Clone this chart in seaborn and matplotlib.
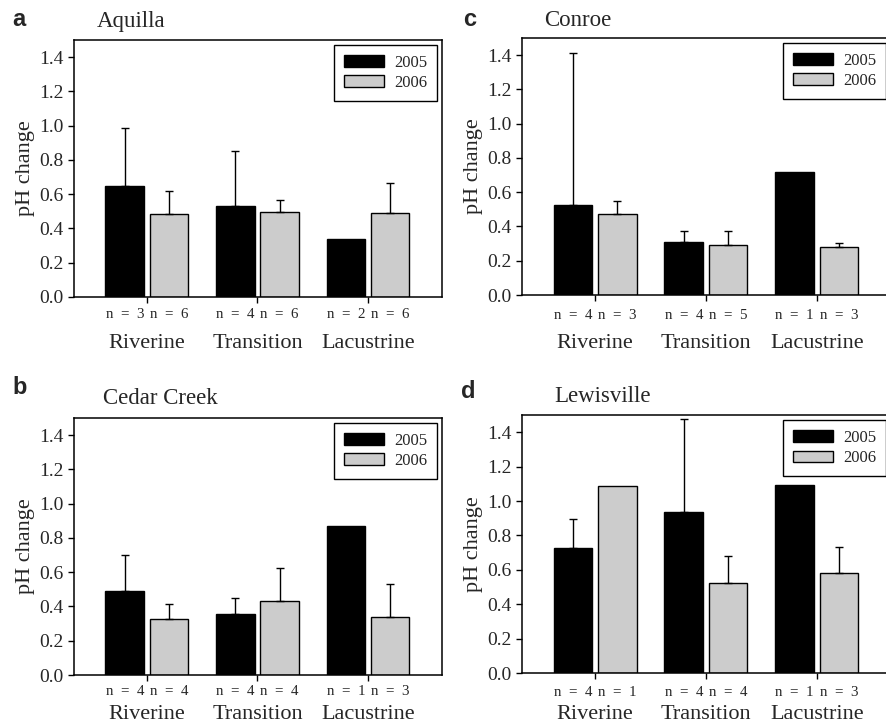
import numpy as np
import pandas as pd
import matplotlib
matplotlib.use('Agg')
import matplotlib.pyplot as plt
import matplotlib.transforms as mtransforms
import seaborn as sns

# 데이터
zones = ['Riverine', 'Transition', 'Lacustrine']
years = ['2005', '2006']

aquilla_2005 = [0.647, 0.534, 0.341]
aquilla_2006 = [0.485, 0.499, 0.489]
aquilla_err_2005 = [0.337, 0.320, 0.0]
aquilla_err_2006 = [0.135, 0.068, 0.178]
aquilla_n = [['n  =  3', 'n  =  4', 'n  =  2'], ['n  =  6', 'n  =  6', 'n  =  6']]

cedar_2005 = [0.488, 0.356, 0.869]
cedar_2006 = [0.325, 0.432, 0.338]
cedar_err_2005 = [0.210, 0.093, 0.0]
cedar_err_2006 = [0.091, 0.194, 0.191]
cedar_n = [['n  =  4', 'n  =  4', 'n  =  1'], ['n  =  4', 'n  =  4', 'n  =  3']]

conroe_2005 = [0.527, 0.309, 0.720]
conroe_2006 = [0.475, 0.292, 0.282]
conroe_err_2005 = [0.887, 0.063, 0.0]
conroe_err_2006 = [0.076, 0.083, 0.022]
conroe_n = [['n  =  4', 'n  =  4', 'n  =  1'], ['n  =  3', 'n  =  5', 'n  =  3']]

lewis_2005 = [0.725, 0.935, 1.091]
lewis_2006 = [1.089, 0.523, 0.579]
lewis_err_2005 = [0.169, 0.541, 0.0]
lewis_err_2006 = [0.0, 0.156, 0.152]
lewis_n = [['n  =  4', 'n  =  4', 'n  =  1'], ['n  =  1', 'n  =  4', 'n  =  3']]

sns.set_style('ticks')
plt.rcParams['font.family'] = ['Liberation Serif', 'DejaVu Serif']
plt.rcParams['axes.linewidth'] = 1.1

W, H = 887, 724
fig = plt.figure(figsize=(W / 100, H / 100), dpi=100)


def px_axes(x0, y0, x1, y1):
    # 픽셀 좌표 -> figure 비율
    return fig.add_axes([x0 / W, 1 - y1 / H, (x1 - x0) / W, (y1 - y0) / H])


def draw_panel(ax, v05, v06, e05, e06, nlab, n_off, name_off):
    df = pd.DataFrame({
        'zone': zones * 2,
        'year': [years[0]] * 3 + [years[1]] * 3,
        'ph': v05 + v06,
    })
    sns.barplot(data=df, x='zone', y='ph', hue='year', order=zones, hue_order=years,
                palette=['#000000', '#cccccc'], saturation=1, edgecolor='black',
                linewidth=1, width=0.8, gap=0.125, errorbar=None, ax=ax)
    trans = mtransforms.blended_transform_factory(ax.transData, ax.transAxes)
    for cont, errs, labs in zip(ax.containers, [e05, e06], nlab):
        for bar, e, lab in zip(cont, errs, labs):
            x = bar.get_x() + bar.get_width() / 2
            top = bar.get_height()
            if e > 0:
                ax.errorbar(x, top, yerr=[[0], [e]], fmt='none', ecolor='black',
                            elinewidth=1, capsize=3, capthick=1, zorder=3)
            ax.text(x, -n_off, lab, transform=trans, ha='center', va='center', fontsize=10.8)
    for i, z in enumerate(zones):
        ax.text(i, -name_off, z, transform=trans, ha='center', va='center', fontsize=16)

    ax.set_xlim(-0.66, 2.67)
    ax.set_ylim(0, 1.5)
    ax.set_yticks(np.arange(0, 1.41, 0.2))
    ax.set_yticklabels([f'{t:.1f}' for t in np.arange(0, 1.41, 0.2)], fontsize=14)
    ax.set_xticks([0, 1, 2])
    ax.set_xticklabels(['', '', ''])
    ax.tick_params(axis='both', direction='out', length=4, width=1, color='black')
    ax.set_xlabel('')
    ax.set_ylabel('pH change', fontsize=16, labelpad=3)
    for s in ax.spines.values():
        s.set_visible(True)
        s.set_color('black')
    leg = ax.legend(loc='upper right', fontsize=12, frameon=True, fancybox=False,
                    edgecolor='black', framealpha=1, handlelength=2.4, handleheight=0.7,
                    borderaxespad=0.3, labelspacing=0.25, handletextpad=0.6,
                    borderpad=0.6, title=None)
    leg.get_frame().set_linewidth(1)


ax_a = px_axes(74, 40, 442, 297)
draw_panel(ax_a, aquilla_2005, aquilla_2006, aquilla_err_2005, aquilla_err_2006,
           aquilla_n, 0.07, 0.179)
ax_c = px_axes(522, 38, 891, 295)
draw_panel(ax_c, conroe_2005, conroe_2006, conroe_err_2005, conroe_err_2006,
           conroe_n, 0.078, 0.187)
ax_b = px_axes(74, 418, 442, 675)
draw_panel(ax_b, cedar_2005, cedar_2006, cedar_err_2005, cedar_err_2006,
           cedar_n, 0.066, 0.152)
ax_d = px_axes(522, 415, 891, 673)
draw_panel(ax_d, lewis_2005, lewis_2006, lewis_err_2005, lewis_err_2006,
           lewis_n, 0.074, 0.16)

# 패널 문자와 제목
for lab, x, y in [('a', 12, 20), ('c', 463, 20), ('b', 12, 387), ('d', 461, 392)]:
    fig.text(x / W, 1 - y / H, lab, ha='left', va='center', fontsize=17,
             fontweight='bold', family=['Liberation Sans', 'DejaVu Sans'])
for t, x, y in [('Aquilla', 97, 21), ('Conroe', 544, 20),
                ('Cedar Creek', 103, 399), ('Lewisville', 554, 397)]:
    fig.text(x / W, 1 - y / H, t, ha='left', va='center', fontsize=16.5)

fig.savefig('out.png', dpi=100)
